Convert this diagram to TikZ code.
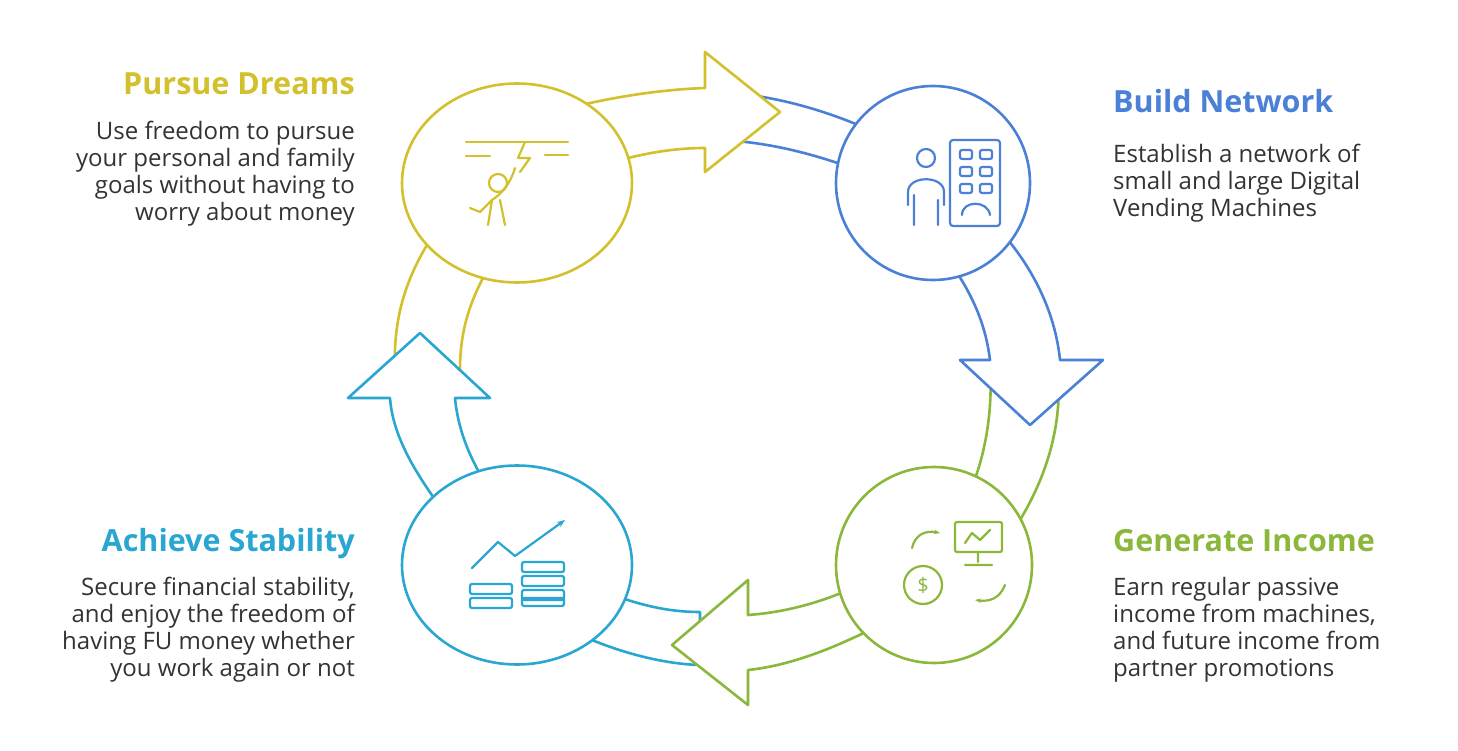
\documentclass[tikz,border=0pt]{standalone}
\usepackage{fontspec}
\setmainfont{Open Sans}
\usetikzlibrary{arrows.meta,shapes.geometric}
\definecolor{cy}{HTML}{D2C12C}
\definecolor{cb}{HTML}{4A80D6}
\definecolor{cg}{HTML}{8BB73B}
\definecolor{cc}{HTML}{29A6D1}
\definecolor{tx}{HTML}{333333}
\tikzset{
 band/.style={draw=#1,fill=white,line width=2.6pt,line join=round},
 circ/.style={draw=#1,fill=white,line width=2.6pt},
 ic/.style={draw=#1,line width=2.2pt,line cap=round,line join=round},
 ttl/.style={text=#1,font=\fontsize{30.5}{34}\selectfont\bfseries,inner sep=0pt},
 bodyr/.style={text=tx,font=\fontsize{24}{27}\selectfont,align=right,inner sep=0pt},
 bodyl/.style={text=tx,font=\fontsize{24}{27}\selectfont,align=left,inner sep=0pt},
}
\begin{document}
\begin{tikzpicture}[x=1pt,y=-1pt]
\useasboundingbox[fill=white] (0,0) rectangle (1458,751);
% tails
\draw[band=cb] (720,92) .. controls (770,95) and (820,108) .. (870,130) -- (870,175) .. controls (820,155) and (770,142) .. (720,140) -- cycle;
\draw[band=cg] (1058,370) .. controls (1062,420) and (1050,470) .. (1020,520) -- (960,510) .. controls (985,470) and (993,410) .. (990,370) -- cycle;
\draw[band=cc] (700,612) .. controls (670,612) and (640,606) .. (600,590) -- (570,630) .. controls (610,650) and (660,664) .. (700,665) -- cycle;
\draw[band=cy] (395,370) .. controls (393,320) and (405,280) .. (430,240) -- (490,265) .. controls (470,300) and (460,330) .. (460,370) -- cycle;
% heads
\draw[band=cy] (560,110) .. controls (600,100) and (650,90) .. (705,88) -- (705,52) -- (780,112) -- (705,172) -- (705,148) .. controls (670,148) and (630,155) .. (590,170) -- cycle;
\draw[band=cb] (990,220) .. controls (1030,260) and (1055,310) .. (1060,360) -- (1103,360) -- (1030,425) -- (960,360) -- (990,360) .. controls (985,320) and (970,290) .. (945,255) -- cycle;
\draw[band=cg] (880,625) .. controls (840,645) and (795,665) .. (748,670) -- (748,705) -- (672,645) -- (748,580) -- (748,615) .. controls (790,612) and (830,600) .. (870,580) -- cycle;
\draw[band=cc] (450,520) .. controls (420,480) and (393,440) .. (390,398) -- (348,398) -- (420,333) -- (490,398) -- (455,398) .. controls (458,430) and (470,460) .. (490,490) -- cycle;
% circles
\node[circ=cy,ellipse,minimum width=230pt,minimum height=199pt,inner sep=0pt] (c1) at (517,183) {};
\node[circ=cb,circle,minimum size=194pt,inner sep=0pt] (c2) at (933,183) {};
\node[circ=cg,circle,minimum size=196pt,inner sep=0pt] (c3) at (934,565) {};
\node[circ=cc,ellipse,minimum width=230pt,minimum height=199pt,inner sep=0pt] (c4) at (517,565) {};
% icon yellow
\draw[ic=cy] (466,142) -- (568,142) (466,156) -- (490,156) (545,155) -- (568,155);
\draw[ic=cy] (525,142) -- (518,158) -- (530,158) -- (520,172);
\draw[ic=cy] (498,183) circle (9);
\draw[ic=cy] (488,225) -- (492,200) .. controls (500,195) and (510,185) .. (515,168) (492,200) -- (480,212) -- (470,208) (500,200) -- (505,225);
% icon blue
\draw[ic=cb] (926,158) circle (9);
\draw[ic=cb] (914,225) -- (914,195) (908,192) .. controls (908,175) and (944,175) .. (944,192) -- (944,205) (938,225) -- (938,200) (908,192) -- (908,205);
\draw[ic=cb,rounded corners=3pt] (950,140) rectangle (1000,226);
\foreach \yy in {150,167,184}{\draw[ic=cb,rounded corners=2pt] (960,\yy) rectangle (972,\yy+9); \draw[ic=cb,rounded corners=2pt] (980,\yy) rectangle (992,\yy+9);}
\draw[ic=cb] (962,215) .. controls (962,200) and (988,200) .. (990,215);
% icon green
\draw[ic=cg,rounded corners=2pt] (955,522) rectangle (1002,552);
\draw[ic=cg] (978,552) -- (978,562) (965,565) -- (992,565) (965,543) -- (972,533) -- (980,540) -- (990,530);
\draw[ic=cg] (923,585) circle (19);
\node[text=cg,font=\fontsize{20}{20}\selectfont] (dl) at (923,585) {\$};
\draw[ic=cg,-{Stealth[length=6pt]}] (912,548) .. controls (915,535) and (925,530) .. (940,533);
\draw[ic=cg,-{Stealth[length=6pt]}] (1005,585) .. controls (1000,598) and (990,602) .. (975,600);
% icon cyan
\draw[ic=cc,-{Stealth[length=8pt]}] (472,568) -- (498,542) -- (515,556) -- (565,520);
\foreach \yy in {584,598}{\draw[ic=cc,rounded corners=2pt] (470,\yy) rectangle (512,\yy+10);}
\foreach \yy in {562,576,590}{\draw[ic=cc,rounded corners=2pt] (522,\yy) rectangle (564,\yy+10);}
\draw[ic=cc,rounded corners=2pt] (522,598) rectangle (564,606);
% texts
\node[ttl=cy,anchor=base east] (t1) at (355,95) {Pursue Dreams};
\node[bodyr,anchor=north east] (b1) at (355,121) {Use freedom to pursue\\your personal and family\\goals without having to\\worry about money};
\node[ttl=cb,anchor=base west] (t2) at (1113,113) {Build Network};
\node[bodyl,anchor=north west] (b2) at (1113,144) {Establish a network of\\small and large Digital\\Vending Machines};
\node[ttl=cg,anchor=base west] (t3) at (1113,551) {Generate Income};
\node[bodyl,anchor=north west] (b3) at (1113,577) {Earn regular passive\\income from machines,\\and future income from\\partner promotions};
\node[ttl=cc,anchor=base east] (t4) at (355,551) {Achieve Stability};
\node[bodyr,anchor=north east] (b4) at (355,577) {Secure financial stability,\\and enjoy the freedom of\\having FU money whether\\you work again or not};
\end{tikzpicture}
\end{document}
